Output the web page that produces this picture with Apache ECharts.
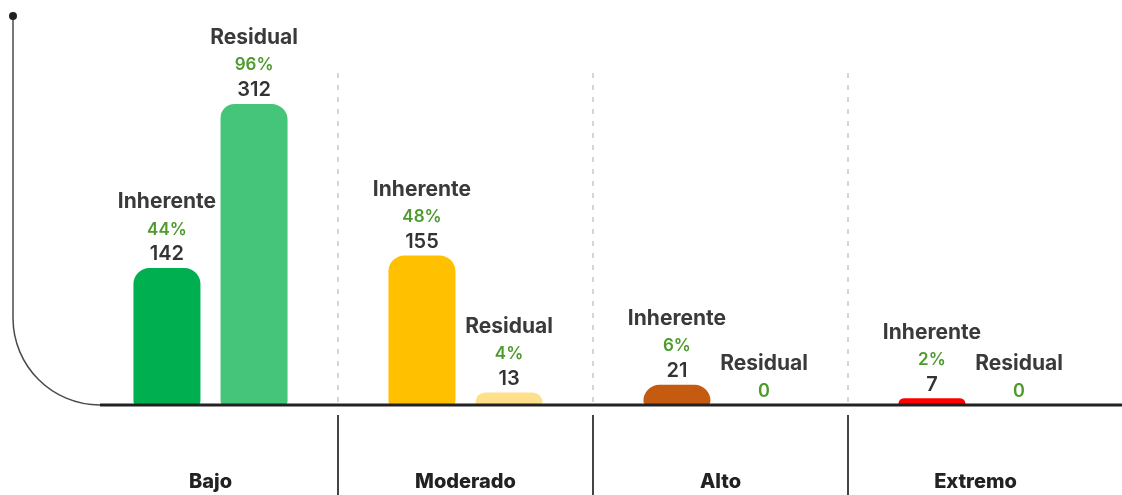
<!DOCTYPE html>
<html>
<head>
<meta charset="utf-8">
<script src="https://cdn.jsdelivr.net/npm/echarts@6/dist/echarts.min.js"></script>
<style>
  html, body { margin: 0; padding: 0; background: #fff; }
  #chart { width: 1122px; height: 495px; }
</style>
</head>
<body>
<div id="chart"></div>
<script>
const categories = ['Bajo', 'Moderado', 'Alto', 'Extremo']
const inherente = [142, 155, 21, 7]
const residual = [312, 13, 0, 0]
const inherentePct = ['44%', '48%', '6%', '2%']
const residualPct = ['96%', '4%', '', '']

const inherenteColors = ['#00b050', '#ffc000', '#c55a11', '#ff0000']
const residualColors = ['#44c57a', '#ffe08a', '#e0a070', '#ff8080']

const FONT = 'Inter'

const myChart = echarts.init(document.getElementById('chart'))

function labelFor(name, pcts) {
  return {
    show: true,
    position: 'top',
    distance: 1,
    formatter: (p) => {
      const pct = pcts[p.dataIndex]
      if (!pct) {
        return `{n|${name}}\n{z|${p.value}}`
      }
      return `{n|${name}}\n{p|${pct}}\n{v|${p.value}}`
    },
    rich: {
      n: { fontFamily: FONT, fontSize: 21, fontWeight: 700, color: '#3a3a3a', lineHeight: 30 },
      p: { fontFamily: FONT, fontSize: 17, fontWeight: 600, color: '#4e9a2e', lineHeight: 25 },
      v: { fontFamily: FONT, fontSize: 20, fontWeight: 600, color: '#333', lineHeight: 25 },
      z: { fontFamily: FONT, fontSize: 18, fontWeight: 600, color: '#4e9a2e', lineHeight: 25 }
    }
  }
}

const option = {
  animation: false,
  grid: {
    top: 73,
    bottom: 90,
    left: 83,
    right: 19
  },
  xAxis: [
    {
      type: 'category',
      data: categories,
      axisLine: { show: false },
      axisTick: { show: false },
      axisLabel: {
        margin: 67,
        fontFamily: FONT,
        fontSize: 20,
        fontWeight: 800,
        color: '#222'
      },
      splitLine: {
        show: true,
        showMinLine: false,
        showMaxLine: false,
        lineStyle: { color: '#c8c8c8', width: 1.5, type: [5, 7] }
      }
    },
    {
      // separadores sólidos debajo del eje
      type: 'value',
      position: 'bottom',
      min: 0,
      max: 4,
      interval: 1,
      offset: 10,
      axisLine: { show: false },
      axisLabel: { show: false },
      splitLine: { show: false },
      axisTick: {
        show: true,
        length: 82,
        customValues: [1, 2, 3],
        lineStyle: { color: '#444', width: 2 }
      }
    }
  ],
  yAxis: {
    type: 'value',
    min: 0,
    max: 344,
    show: false
  },
  series: [
    {
      name: 'Inherente',
      type: 'bar',
      barWidth: 67,
      barGap: '30%',
      data: inherente.map((v, i) => ({ value: v, itemStyle: { color: inherenteColors[i] } })),
      itemStyle: { borderRadius: [16, 16, 4, 4] },
      label: labelFor('Inherente', inherentePct)
    },
    {
      name: 'Residual',
      type: 'bar',
      barWidth: 67,
      data: residual.map((v, i) => ({ value: v, itemStyle: { color: residualColors[i] } })),
      itemStyle: { borderRadius: [14, 16, 4, 4] },
      label: labelFor('Residual', residualPct)
    }
  ],
  graphic: [
    {
      type: 'line',
      shape: { x1: 13, y1: 16, x2: 13, y2: 318 },
      style: { stroke: '#4a4a4a', lineWidth: 1.5 },
      z: 10
    },
    {
      type: 'bezierCurve',
      shape: { x1: 13, y1: 318, cpx1: 13, cpy1: 366, cpx2: 52, cpy2: 405, x2: 100, y2: 405 },
      style: { fill: null, stroke: '#4a4a4a', lineWidth: 1.5 },
      z: 10
    },
    {
      type: 'circle',
      shape: { cx: 13, cy: 16, r: 4 },
      style: { fill: '#222' },
      z: 10
    },
    {
      type: 'line',
      shape: { x1: 100, y1: 405, x2: 1122, y2: 405 },
      style: { stroke: '#222', lineWidth: 3 },
      z: 10
    }
  ]
}

myChart.setOption(option)
window.addEventListener('resize', () => myChart.resize())
</script>
</body>
</html>
